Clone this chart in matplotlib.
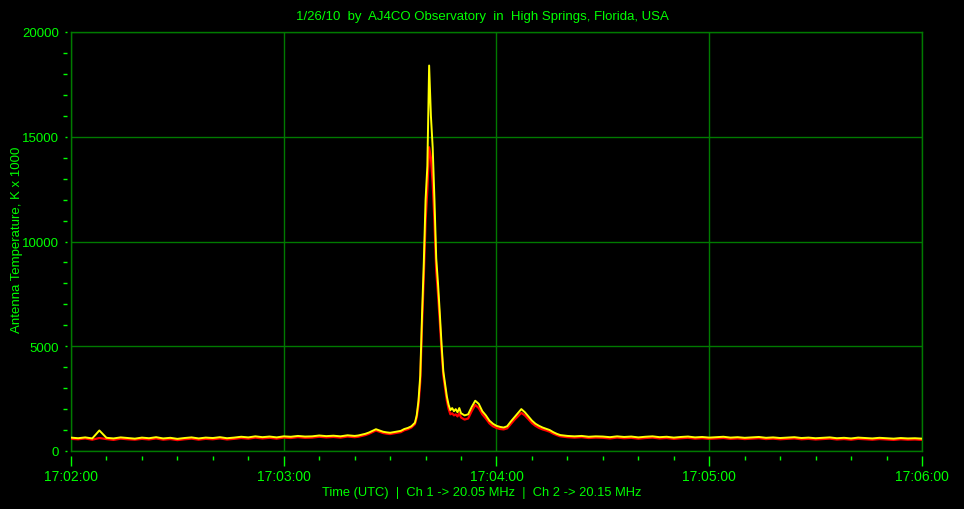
import matplotlib
matplotlib.use("Agg")
import matplotlib.pyplot as plt
from matplotlib.ticker import MultipleLocator

# ---------------- data (seconds after 17:02:00) ----------------
t_base1 = [0, 2, 4, 6, 8, 10, 12, 14, 16, 18, 20, 22, 24, 26, 28, 30, 32, 34, 36, 38,
           40, 42, 44, 46, 48, 50, 52, 54, 56, 58, 60, 62, 64, 66, 68, 70, 72, 74, 76, 78, 80]
t_rise = [81, 82, 83, 84, 85, 86, 87, 88, 89, 90, 91, 92, 93, 94, 95, 96, 97]
t_peak = [97.5, 98, 98.5, 99, 99.5, 100, 100.5, 101, 101.5, 102, 102.5, 103, 103.5,
          104, 104.5, 105, 105.5, 106, 106.5, 107, 107.5, 108, 108.5, 109, 109.5, 110]
t_tail = [111, 112, 113, 114, 115, 116, 117, 118, 119, 120, 121, 122, 123, 124, 125,
          126, 127, 128, 129, 130, 131, 132, 133, 134, 135, 136, 137, 138, 139, 140]
t_base2 = [142, 144, 146, 148, 150, 152, 154, 156, 158, 160, 162, 164, 166, 168, 170,
           172, 174, 176, 178, 180, 182, 184, 186, 188, 190, 192, 194, 196, 198, 200,
           202, 204, 206, 208, 210, 212, 214, 216, 218, 220, 222, 224, 226, 228, 230,
           232, 234, 236, 238, 240]
times = t_base1 + t_rise + t_peak + t_tail + t_base2

ch2_yellow = [
    # base 1
    640, 610, 650, 600, 980, 630, 600, 650, 620, 590, 640, 610, 660, 600, 630, 580, 620,
    650, 600, 640, 620, 660, 610, 640, 680, 650, 700, 660, 690, 650, 700, 680, 720, 690,
    700, 740, 710, 730, 700, 750, 720,
    # rise
    740, 780, 820, 880, 960, 1040, 980, 920, 890, 870, 900, 930, 960, 1050, 1100, 1180, 1350,
    # peak
    1700, 2400, 3600, 6500, 9000, 12000, 13600, 18400, 16000, 14500, 12000, 9200, 8000,
    6600, 5100, 3800, 3200, 2600, 2200, 1950, 2050, 1900, 2000, 1850, 2050, 1800,
    # tail
    1700, 1750, 2100, 2400, 2250, 1900, 1700, 1450, 1300, 1200, 1150, 1120, 1180, 1400,
    1600, 1800, 2000, 1850, 1650, 1450, 1300, 1200, 1120, 1060, 1000, 900, 820, 760, 740, 720,
    # base 2
    700, 720, 680, 700, 690, 660, 700, 670, 690, 650, 680, 700, 660, 680, 640, 670, 690,
    650, 670, 640, 660, 680, 640, 660, 630, 650, 670, 630, 650, 620, 640, 660, 620, 640,
    610, 630, 650, 610, 630, 600, 640, 620, 600, 630, 610, 590, 620, 600, 610, 590,
]

ch1_red = [
    # base 1
    580, 560, 600, 540, 620, 570, 530, 590, 560, 540, 580, 550, 600, 540, 570, 520, 560,
    590, 540, 580, 560, 600, 550, 580, 620, 590, 640, 600, 630, 590, 640, 620, 660, 630,
    640, 680, 650, 670, 640, 690, 660,
    # rise
    680, 720, 760, 820, 900, 980, 920, 860, 830, 810, 840, 870, 900, 990, 1040, 1120, 1280,
    # peak
    1600, 2200, 3300, 6000, 8300, 11000, 12500, 14500, 14000, 12800, 11000, 8600, 7500,
    6200, 4800, 3600, 3000, 2400, 2000, 1750, 1800, 1700, 1750, 1650, 1800, 1600,
    # tail
    1500, 1550, 1900, 2200, 2050, 1750, 1550, 1320, 1180, 1100, 1050, 1030, 1080, 1280,
    1480, 1650, 1820, 1700, 1520, 1330, 1200, 1100, 1030, 980, 920, 830, 760, 700, 680, 660,
    # base 2
    640, 660, 620, 640, 630, 600, 640, 610, 630, 590, 620, 640, 600, 620, 580, 610, 630,
    590, 610, 580, 600, 620, 580, 600, 570, 590, 610, 570, 590, 560, 580, 600, 560, 580,
    550, 570, 590, 550, 570, 540, 580, 560, 540, 570, 550, 530, 560, 540, 550, 530,
]

x_tick_pos = [0, 60, 120, 180, 240]
x_tick_labels = ["17:02:00", "17:03:00", "17:04:00", "17:05:00", "17:06:00"]
y_ticks = [0, 5000, 10000, 15000, 20000]

title = "1/26/10  by  AJ4CO Observatory  in  High Springs, Florida, USA"
xlabel = "Time (UTC)  |  Ch 1 -> 20.05 MHz  |  Ch 2 -> 20.15 MHz"
ylabel = "Antenna Temperature, K x 1000"

# ---------------- style ----------------
GREEN = "#00ff00"
DGREEN = "#007a00"
plt.rcParams["font.family"] = ["Liberation Sans", "DejaVu Sans"]

fig = plt.figure(figsize=(9.64, 5.10), dpi=100, facecolor="black")
ax = fig.add_axes([71 / 964, 58 / 510, 851 / 964, 419 / 510], facecolor="black")

ax.plot(times, ch1_red, color="#ff0000", lw=1.6, zorder=3)
ax.plot(times, ch2_yellow, color="#ffff00", lw=1.4, zorder=4)

ax.set_xlim(0, 240)
ax.set_ylim(0, 20000)
ax.set_xticks(x_tick_pos)
ax.set_yticks(y_ticks)
ax.tick_params(length=0, labelbottom=False, labelleft=False)
ax.grid(True, color=DGREEN, lw=1)
for s in ax.spines.values():
    s.set_color(DGREEN)
    s.set_linewidth(1)

# tick axes offset from the frame
secx = ax.secondary_xaxis(-0.011)
secx.set_xticks(x_tick_pos)
secx.set_xticklabels(x_tick_labels)
secx.xaxis.set_minor_locator(MultipleLocator(10))
secx.tick_params(which="major", direction="out", length=7, width=1, color=GREEN,
                 labelcolor=GREEN, labelsize=10, pad=3)
secx.tick_params(which="minor", direction="out", length=3, width=1, color=GREEN)
secx.spines["bottom"].set_visible(False)

secy = ax.secondary_yaxis(-0.005)
secy.set_yticks(y_ticks)
secy.set_yticklabels([str(v) for v in y_ticks])
secy.yaxis.set_minor_locator(MultipleLocator(1000))
secy.tick_params(which="major", direction="out", length=1.5, width=1, color=GREEN,
                 labelcolor=GREEN, labelsize=9.5, pad=4)
secy.tick_params(which="minor", direction="out", length=3, width=1, color=GREEN)
secy.spines["left"].set_visible(False)

fig.text(0.5, 1 - 17 / 510, title, color=GREEN, fontsize=9.5, ha="center", va="center")
fig.text(0.5, 1 - 493 / 510, xlabel, color=GREEN, fontsize=9.3, ha="center", va="center")
fig.text(17 / 964, 1 - 240 / 510, ylabel, color=GREEN, fontsize=9.5, ha="center",
         va="center", rotation=90)

fig.savefig("out.png", dpi=100, facecolor="black")
